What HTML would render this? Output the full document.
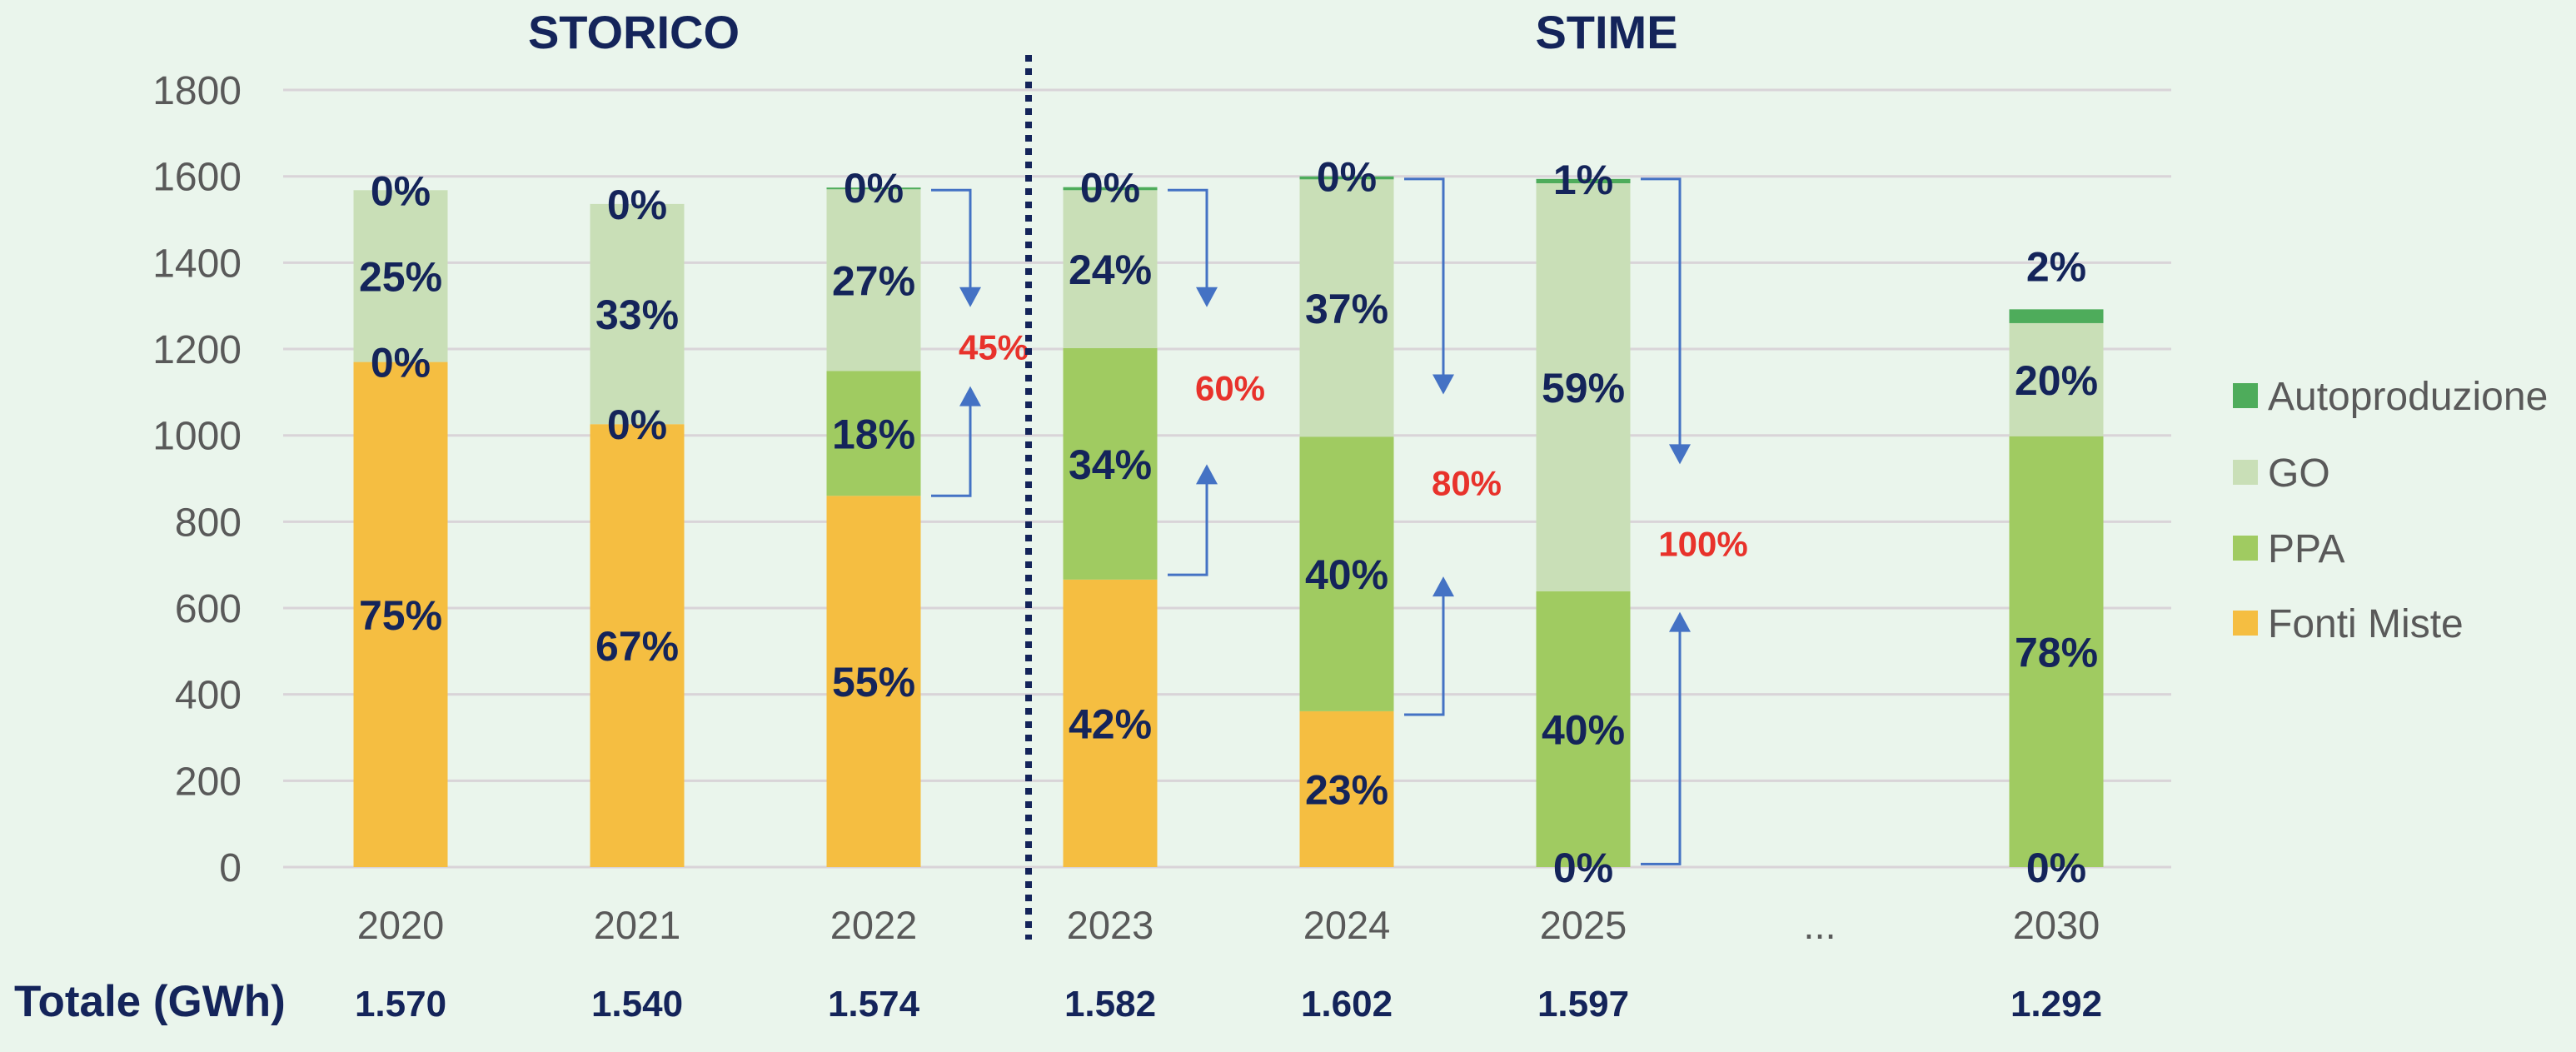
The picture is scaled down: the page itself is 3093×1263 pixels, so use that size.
<!DOCTYPE html>
<html><head><meta charset="utf-8">
<style>
html,body{margin:0;padding:0;background:#EAF5EC;}
svg{display:block;font-family:"Liberation Sans",sans-serif;}
</style></head>
<body>
<svg id="chart" width="3093" height="1263" viewBox="0 0 3093 1263" xmlns="http://www.w3.org/2000/svg">
<rect x="0" y="0" width="3093" height="1263" fill="#EAF5EC"/>
<g id="grid"></g><g id="bars"></g><g id="labels"></g><g id="arrows"></g>
<text x="761" y="58" font-size="56" font-weight="bold" fill="#14245A" text-anchor="middle">STORICO</text>
<text x="1929" y="58" font-size="56" font-weight="bold" fill="#14245A" text-anchor="middle">STIME</text>
<line x1="1235" y1="66" x2="1235" y2="1128" stroke="#14245A" stroke-width="8" stroke-dasharray="8,8"/>
<text x="17" y="1220" font-size="53" font-weight="bold" fill="#14245A">Totale (GWh)</text>
<g id="legend"></g>
</svg>
<script>
const categories = ["2020","2021","2022","2023","2024","2025","...","2030"];
const totals = ["1.570","1.540","1.574","1.582","1.602","1.597","","1.292"];
const fontiMiste = [1170,1026,860,666,361,0,null,0];
const ppa = [0,0,289,536,636,639,null,998];
const go = [398,510,421,366,596,945,null,262];
const auto = [0,0,4,7,7,10,null,32];
const fmPct = ["75%","67%","55%","42%","23%","0%","","0%"];
const ppaPct = ["0%","0%","18%","34%","40%","40%","","78%"];
const goPct = ["25%","33%","27%","24%","37%","59%","","20%"];
const autoPct = ["0%","0%","0%","0%","0%","1%","","2%"];
const yTicks = [0,200,400,600,800,1000,1200,1400,1600,1800];
const arrowTop = [1568,1568,1594,1594];
const arrowDownTip = [1297,1297,1095,933];
const arrowBottom = [860,677,353,7];
const arrowUpTip = [1114,933,673,591];
const arrowLabelVal = [1205,1110,890,750];
const arrowLabels = ["45%","60%","80%","100%"];
const arrowSlot = [2,3,4,5];

const NS="http://www.w3.org/2000/svg";
const y0=1041, pxPer=0.5183, x0=481, step=284, bw=113;
const Y=v=>y0-v*pxPer;
const X=i=>x0+i*step;
function mk(parent,tag,attrs){const e=document.createElementNS(NS,tag);for(const k in attrs)e.setAttribute(k,attrs[k]);document.getElementById(parent).appendChild(e);return e;}

yTicks.forEach(t=>{
  const l=mk('grid','line',{x1:340,x2:2607,y1:Y(t),y2:Y(t),stroke:'#D9D4D8','stroke-width':3});
  
  
  const tx=mk('grid','text',{x:290,y:Y(t)+17,'font-size':48,fill:'#595959','text-anchor':'end'});
  tx.textContent=t;
  
  
});

const series=[["fonti-miste",fontiMiste,"#F5BE41",fmPct],["ppa",ppa,"#A0CB61",ppaPct],["go",go,"#C9DFB7",goPct],["autoproduzione",auto,"#4EAC5B",autoPct]];
categories.forEach((c,i)=>{
  const cx=X(i);
  const yl=mk('labels','text',{x:cx,y:Y(0)+86,'font-size':47,fill:'#595959','text-anchor':'middle'});
  yl.textContent=c;
  
  
  if(totals[i]){
    const tl=mk('labels','text',{x:cx,y:1220,'font-size':44,'font-weight':'bold',fill:'#14245A','text-anchor':'middle'});
    tl.textContent=totals[i];
    
    
  }
  if(fontiMiste[i]===null)return;
  let base=0;
  series.forEach(([nm,arr,col,pct],s)=>{
    const v=arr[i];
    if(v>0){
      const r=mk('bars','rect',{x:cx-bw/2,y:Y(base+v),width:bw,height:v*pxPer,fill:col});
      
      
    }
    if(pct[i]){
      let ly;
      if(s===3){ly = v>20 ? Y(base+v)-52 : Y(base+v);}
      else ly = v>0 ? Y(base+v/2) : Y(base);
      const t=mk('labels','text',{x:cx,y:ly+18,'font-size':50,'font-weight':'bold',fill:'#14245A','text-anchor':'middle'});
      t.textContent=pct[i];
      
      
    }
    base+=v;
  });
});

arrowLabels.forEach((lab,k)=>{
  const xs=X(arrowSlot[k])+69, xv=xs+47, col='#4472C4';
  const p1=mk('arrows','path',{d:`M${xs},${Y(arrowTop[k])} H${xv} V${Y(arrowDownTip[k])-22}`,fill:'none',stroke:col,'stroke-width':3});
  
  
  const h1=mk('arrows','path',{d:`M${xv-13},${Y(arrowDownTip[k])-24} L${xv+13},${Y(arrowDownTip[k])-24} L${xv},${Y(arrowDownTip[k])} Z`,fill:col});
  
  
  const p2=mk('arrows','path',{d:`M${xs},${Y(arrowBottom[k])} H${xv} V${Y(arrowUpTip[k])+22}`,fill:'none',stroke:col,'stroke-width':3});
  
  
  const h2=mk('arrows','path',{d:`M${xv-13},${Y(arrowUpTip[k])+24} L${xv+13},${Y(arrowUpTip[k])+24} L${xv},${Y(arrowUpTip[k])} Z`,fill:col});
  
  
  const t=mk('arrows','text',{x:xv+28,y:Y(arrowLabelVal[k])+15,'font-size':42,'font-weight':'bold',fill:'#E8322B','text-anchor':'middle'});
  t.textContent=lab;
  
  
});

const legendNames=["Autoproduzione","GO","PPA","Fonti Miste"];
const legendCols=["#4EAC5B","#C9DFB7","#A0CB61","#F5BE41"];
const legendY=[475,567,658,748];
legendNames.forEach((n,k)=>{
  const r=mk('legend','rect',{x:2681,y:legendY[k]-15,width:30,height:30,fill:legendCols[k]});
  
  
  const t=mk('legend','text',{x:2723,y:legendY[k]+17,'font-size':48,fill:'#595959'});
  t.textContent=n;
  
  
});
</script>
</body></html>
